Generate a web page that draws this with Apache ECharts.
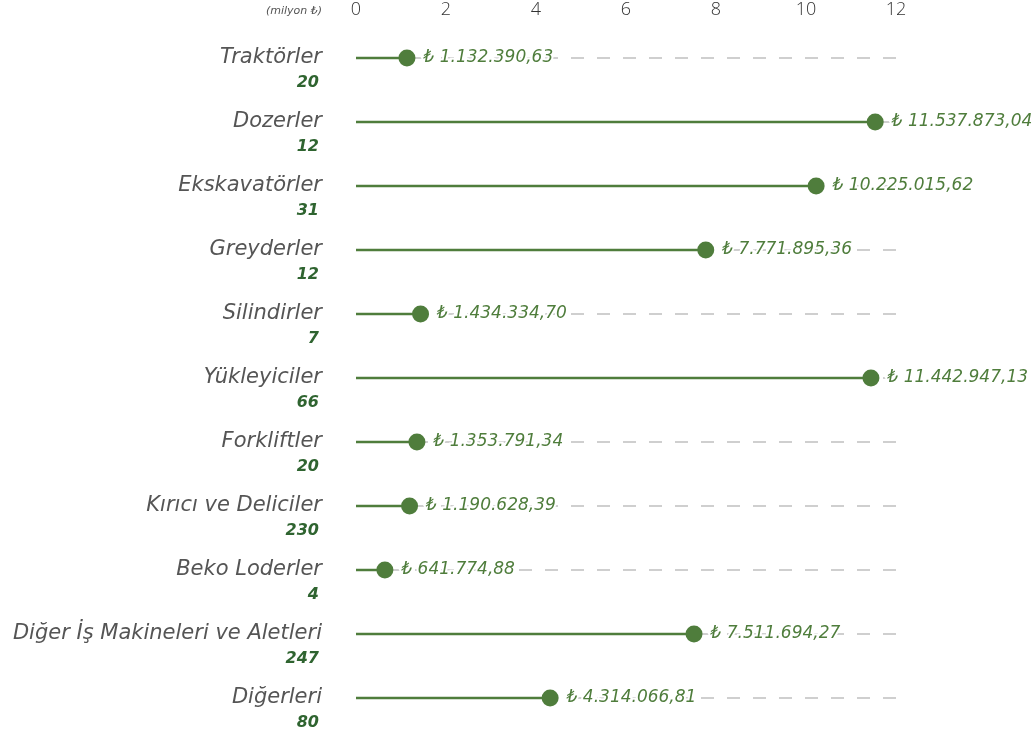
<!DOCTYPE html>
<html>
<head>
<meta charset="utf-8">
<script src="https://cdn.jsdelivr.net/npm/echarts@6/dist/echarts.min.js"></script>
<style>
  html, body { margin: 0; padding: 0; background: #fff; }
  #main { width: 1032px; height: 731px; }
</style>
</head>
<body>
<div id="main"></div>
<script>
// kategoriler, adetler ve tutarlar (TL)
var categories = ['Traktörler', 'Dozerler', 'Ekskavatörler', 'Greyderler', 'Silindirler', 'Yükleyiciler',
    'Forkliftler', 'Kırıcı ve Deliciler', 'Beko Loderler', 'Diğer İş Makineleri ve Aletleri', 'Diğerleri'];
var counts = [20, 12, 31, 12, 7, 66, 20, 230, 4, 247, 80];
var amounts = [1132390.63, 11537873.04, 10225015.62, 7771895.36, 1434334.70, 11442947.13,
    1353791.34, 1190628.39, 641774.88, 7511694.27, 4314066.81];
var xTicks = [0, 2, 4, 6, 8, 10, 12];

var green = '#4f7d3c';
var darkGreen = '#2f6430';
var font = '"DejaVu Sans", "Noto Sans", sans-serif';
var tickFont = '"Open Sans", "Noto Sans", sans-serif';

function trFormat(v) {
    var parts = v.toFixed(2).split('.');
    var intPart = parts[0].replace(/\B(?=(\d{3})+(?!\d))/g, '.');
    return intPart + ',' + parts[1];
}

var millions = amounts.map(function (v) { return v / 1e6; });
var xMax = xTicks[xTicks.length - 1];

var chart = echarts.init(document.getElementById('main'));
var option = {
    animation: false,
    grid: { left: 356, right: 136, top: 26, bottom: 1 },
    xAxis: {
        type: 'value',
        position: 'top',
        min: xTicks[0],
        max: xMax,
        interval: 2,
        splitLine: { show: false },
        axisLine: { show: false },
        axisTick: { show: false },
        axisLabel: { margin: 7, fontSize: 18, color: '#333', fontFamily: tickFont, fontWeight: 300 }
    },
    yAxis: {
        type: 'category',
        inverse: true,
        data: categories,
        axisLine: { show: false },
        axisTick: { show: false },
        axisLabel: {
            margin: 34,
            formatter: function (val, i) {
                return '{n|' + val + '}\n{c|' + counts[i] + '}';
            },
            padding: [26, 0, 0, 0],
            rich: {
                n: { fontSize: 21, fontStyle: 'italic', fontWeight: 200, color: '#555', fontFamily: font, lineHeight: 24, align: 'right' },
                c: { fontSize: 16, fontStyle: 'italic', fontWeight: 'bold', color: darkGreen, fontFamily: font, lineHeight: 26, align: 'right', padding: [0, 3, 0, 0] }
            }
        }
    },
    graphic: [{
        type: 'text',
        right: 1032 - 322,
        top: 6,
        style: { text: '(milyon ₺)', fontSize: 11, fontStyle: 'italic', fill: '#555', fontFamily: font, fontWeight: 200 }
    }],
    series: [
        {
            // kesikli arka çizgi
            type: 'custom',
            z: 1,
            data: categories.map(function (c, i) { return [xMax, i]; }),
            renderItem: function (params, api) {
                var a = api.coord([xMax, api.value(1)]);
                var b = api.coord([0, api.value(1)]);
                return {
                    type: 'line',
                    shape: { x1: a[0], y1: a[1], x2: b[0], y2: b[1] },
                    style: { stroke: '#cfcfcf', lineWidth: 2, lineDash: [13, 13] }
                };
            }
        },
        {
            type: 'bar',
            z: 2,
            barWidth: 2.5,
            data: millions,
            itemStyle: { color: green }
        },
        {
            type: 'scatter',
            z: 3,
            symbolSize: 17,
            data: millions,
            itemStyle: { color: green, opacity: 1 },
            label: {
                show: true,
                position: 'right',
                distance: 8,
                formatter: function (p) { return '₺ ' + trFormat(amounts[p.dataIndex]); },
                fontSize: 17,
                fontStyle: 'italic',
                color: green,
                fontFamily: font,
                textBorderColor: '#fff',
                textBorderWidth: 4
            }
        }
    ]
};
chart.setOption(option);
</script>
</body>
</html>
